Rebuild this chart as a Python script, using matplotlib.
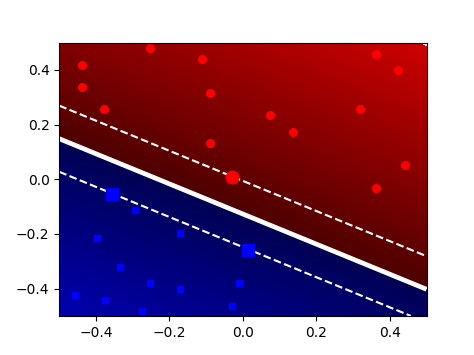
import numpy as np
import matplotlib
matplotlib.use("Agg")
import matplotlib.pyplot as plt
from matplotlib.colors import LinearSegmentedColormap

# class +1 (red circles)
pos_x = [-0.438, -0.438, -0.254, -0.377, -0.111, -0.090, -0.090,
         0.361, 0.423, 0.074, 0.136, 0.320, 0.442, 0.361]
pos_y = [0.419, 0.337, 0.481, 0.256, 0.440, 0.316, 0.133,
         0.459, 0.399, 0.235, 0.174, 0.256, 0.051, -0.032]
# class -1 (blue squares)
neg_x = [-0.295, -0.398, -0.171, -0.334, -0.254, -0.171,
         -0.457, -0.375, -0.274, -0.012, -0.029]
neg_y = [-0.113, -0.216, -0.196, -0.320, -0.379, -0.400,
         -0.423, -0.441, -0.483, -0.380, -0.462]
# support vectors
sv_pos_x = [-0.029]
sv_pos_y = [0.0095]
sv_neg_x = [-0.356, 0.013]
sv_neg_y = [-0.055, -0.257]

# linear decision function f = w.x + b
w = [4.55, 8.26]
b = 1.05
f_max = 7.33

cmap = LinearSegmentedColormap.from_list(
    "svm", [(0.0, (0.0, 0.0, 0.82)), (0.5, (0.0, 0.0, 0.32)),
            (0.5, (0.30, 0.0, 0.0)), (1.0, (0.80, 0.0, 0.0))])

xx, yy = np.meshgrid(np.linspace(-0.5, 0.5, 400), np.linspace(-0.5, 0.5, 400))
zz = w[0] * xx + w[1] * yy + b

fig, ax = plt.subplots(figsize=(4.74, 3.55), dpi=100)
ax.contourf(xx, yy, zz, levels=np.linspace(-f_max, f_max, 101), cmap=cmap)
ax.contour(xx, yy, zz, levels=[0.0], colors="w", linewidths=3.4)
ax.contour(xx, yy, zz, levels=[-1.0, 1.0], colors="w", linewidths=1.5,
           linestyles="dashed")

ax.plot(pos_x, pos_y, "ro", ms=5.5)
ax.plot(neg_x, neg_y, "bs", ms=5)
ax.plot(sv_pos_x, sv_pos_y, "ro", ms=9)
ax.plot(sv_neg_x, sv_neg_y, "bs", ms=8)

ax.set_xlim(-0.5, 0.5)
ax.set_ylim(-0.5, 0.5)
fig.savefig("out.png", dpi=100)
